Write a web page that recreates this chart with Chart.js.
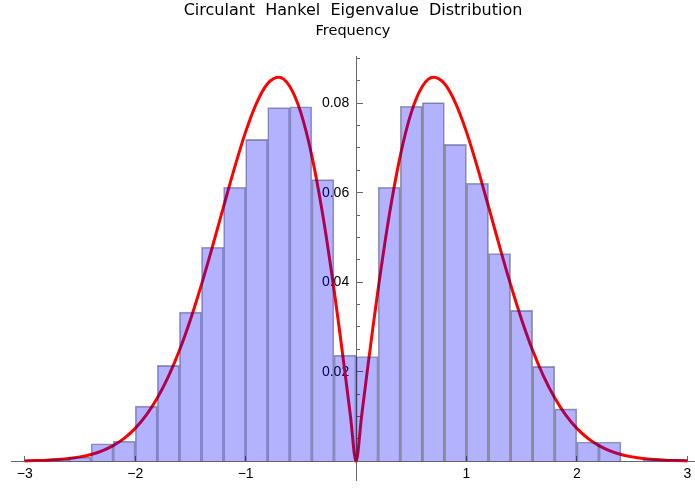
<!DOCTYPE html>
<html><head><meta charset="utf-8">
<script src="https://cdn.jsdelivr.net/npm/chart.js@4"></script>
<style>html,body{margin:0;padding:0;background:#fff}#wrap{width:695px;height:488px}</style>
</head><body><div id="wrap"><canvas id="c" width="695" height="488"></canvas></div>
<script>
// Histogram bins (width 0.2), centers and frequencies
const binCenters = [-2.9,-2.7,-2.5,-2.3,-2.1,-1.9,-1.7,-1.5,-1.3,-1.1,-0.9,-0.7,-0.5,-0.3,-0.1,
                    0.1,0.3,0.5,0.7,0.9,1.1,1.3,1.5,1.7,1.9,2.1,2.3,2.5,2.7,2.9];
const frequencies = [0.0003,0.0005,0.0009,0.0039,0.0045,0.0123,0.0214,0.0333,0.0478,0.0612,0.0719,0.0790,0.0792,0.0629,0.0237,
                     0.0234,0.0612,0.0793,0.0801,0.0708,0.0621,0.0464,0.0337,0.0212,0.0117,0.0043,0.0043,0,0.0005,0.0004];
// Red density curve, sampled points
const curveX = [-3.0,-2.9,-2.8,-2.7,-2.6,-2.5,-2.4,-2.3,-2.2,-2.1,-2.0,-1.9,-1.8,-1.7,-1.6,-1.5,-1.4,-1.3,-1.2,-1.1,-1.0,
                -0.9,-0.8,-0.7,-0.6,-0.5,-0.4,-0.3,-0.2,-0.15,-0.1,-0.05,0,0.05,0.1,0.15,0.2,0.3,0.4,0.5,0.6,0.7,0.8,0.9,
                1.0,1.1,1.2,1.3,1.4,1.5,1.6,1.7,1.8,1.9,2.0,2.1,2.2,2.3,2.4,2.5,2.6,2.7,2.8,2.9,3.0];
const curveY = [0.00007,0.00013,0.00022,0.00037,0.00060,0.00097,0.00151,0.00232,0.00348,0.00511,0.00733,0.01028,0.01410,0.01890,
                0.02474,0.03162,0.03944,0.04798,0.05686,0.06560,0.07358,0.08007,0.08437,0.08577,0.08372,0.07788,0.06817,0.05484,
                0.03843,0.02933,0.01980,0.00998,0,0.00998,0.01980,0.02933,0.03843,0.05484,0.06817,0.07788,0.08372,0.08577,0.08437,
                0.08007,0.07358,0.06560,0.05686,0.04798,0.03944,0.03162,0.02474,0.01890,0.01410,0.01028,0.00733,0.00511,0.00348,
                0.00232,0.00151,0.00097,0.00060,0.00037,0.00022,0.00013,0.00007];
const xTickValues = [-3,-2,-1,1,2,3];
const yTickValues = [0.02,0.04,0.06,0.08];
const yMinorTickValues = [0.005,0.01,0.015,0.02,0.025,0.03,0.035,0.04,0.045,0.05,0.055,0.06,0.065,0.07,0.075,0.08,0.085,0.09];
const chartTitle = 'Circulant  Hankel  Eigenvalue  Distribution';
const yAxisTitle = 'Frequency';

const X_MIN = -3.125, X_MAX = 3.07, Y_MIN = -0.0042, Y_MAX = 0.0904;
const axisColor = '#666';
const tickFont = {family: '"Liberation Sans", Arial, sans-serif', size: 14};

const setTicks = vals => scale => { scale.ticks = vals.map(v => ({value: v})); };
const fitVertical = s => { s.width = 0; s.paddingTop = 0; s.paddingBottom = 0; };
const fitHorizontal = s => { s.height = 0; s.paddingLeft = 0; s.paddingRight = 0; };

new Chart(document.getElementById('c'), {
  type: 'bar',
  data: {
    datasets: [
      {
        type: 'bar',
        data: binCenters.map((x, i) => ({x: x, y: frequencies[i]})),
        backgroundColor: 'rgba(0,0,255,0.3)',
        borderColor: 'rgba(30,30,60,0.42)',
        borderWidth: 1,
        barPercentage: 1,
        categoryPercentage: 1,
        xAxisID: 'x', yAxisID: 'y',
        order: 0
      },
      {
        type: 'line',
        data: curveX.map((x, i) => ({x: x, y: curveY[i]})),
        borderColor: 'rgb(255,0,0)',
        borderWidth: 3,
        pointRadius: 0,
        fill: false,
        cubicInterpolationMode: 'monotone',
        xAxisID: 'x', yAxisID: 'y',
        order: 1
      }
    ]
  },
  options: {
    responsive: false,
    animation: false,
    devicePixelRatio: 1,
    layout: {padding: {left: 11, right: 0, top: 0, bottom: 8}},
    plugins: {
      legend: {display: false},
      tooltip: {enabled: false},
      title: {
        display: true, text: chartTitle, fullSize: false, color: '#000',
        font: {family: '"DejaVu Sans", sans-serif', size: 16, weight: 'normal'},
        padding: {top: 1, bottom: 2}
      },
      subtitle: {
        display: true, text: yAxisTitle, fullSize: false, color: '#000',
        font: {family: '"DejaVu Sans", sans-serif', size: 14.5, weight: 'normal'},
        padding: {top: 0, bottom: 17}
      }
    },
    scales: {
      x: {
        type: 'linear', min: X_MIN, max: X_MAX, position: {y: 0}, offset: false,
        grid: {drawOnChartArea: false, drawTicks: true, tickLength: -6, color: axisColor, offset: false},
        border: {display: true, color: axisColor, width: 1},
        ticks: {padding: 11, font: tickFont, color: '#000', autoSkip: false, maxRotation: 0,
                callback: v => (v < 0 ? '\u2212' + Math.abs(v) : String(v))},
        afterBuildTicks: setTicks(xTickValues),
        afterFit: fitHorizontal
      },
      y: {
        type: 'linear', min: Y_MIN, max: Y_MAX, position: {x: 0},
        grid: {drawOnChartArea: false, drawTicks: true, tickLength: -7, color: axisColor},
        border: {display: true, color: axisColor, width: 1},
        ticks: {display: false},
        afterBuildTicks: setTicks(yTickValues),
        afterFit: fitVertical
      },
      yMinor: {
        type: 'linear', min: Y_MIN, max: Y_MAX, position: {x: 0},
        grid: {drawOnChartArea: false, drawTicks: true, tickLength: -4, color: axisColor},
        border: {display: false},
        ticks: {display: false},
        afterBuildTicks: setTicks(yMinorTickValues),
        afterFit: fitVertical
      },
      yLabels: {
        type: 'linear', min: Y_MIN, max: Y_MAX, position: {x: -0.062},
        grid: {display: false},
        border: {display: false},
        ticks: {display: true, padding: 0, font: tickFont, color: '#000', callback: v => v.toFixed(2)},
        afterBuildTicks: setTicks(yTickValues),
        afterFit: fitVertical
      }
    }
  }
});
</script>
</body></html>
